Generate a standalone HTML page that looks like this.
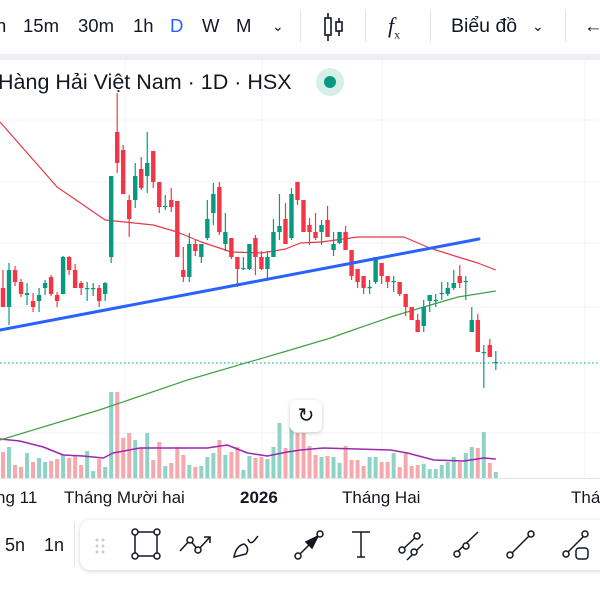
<!DOCTYPE html>
<html><head><meta charset="utf-8">
<style>
html,body{margin:0;padding:0;width:600px;height:600px;overflow:hidden;background:#fff;font-family:"Liberation Sans","DejaVu Sans",sans-serif;color:#131722}
.tb{position:absolute;left:0;top:0;width:600px;height:54px;background:#fff}
.tb span{position:absolute;top:14px;font-size:18.5px;line-height:24px}
.sep{position:absolute;top:10px;width:1px;height:32px;background:#e0e3eb}
.gray{position:absolute;left:0;top:54px;width:600px;height:6px;background:#eceef2}
.legend{position:absolute;left:-2px;top:69px;font-size:21.5px;line-height:26px;color:#131722;white-space:nowrap}
.dot{position:absolute;left:316px;top:68px;width:28px;height:28px;border-radius:50%;background:#d6efe9}
.dot i{position:absolute;left:8px;top:8px;width:12px;height:12px;border-radius:50%;background:#089981}
.xl{position:absolute;top:488px;font-size:17px;line-height:20px;white-space:nowrap}
.bt{position:absolute;left:0;top:512px;width:600px;height:88px;background:#fff}
.panel{position:absolute;left:80px;top:520px;width:540px;height:50px;border-radius:10px;background:#fff;box-shadow:0 1px 5px rgba(0,0,0,0.18)}
.reset{position:absolute;left:290px;top:400px;width:32px;height:32px;border-radius:6px;background:#fff;box-shadow:0 1px 4px rgba(0,0,0,0.2);font-size:20px;line-height:32px;text-align:center}
</style></head><body>
<svg id="chart" width="600" height="600" style="position:absolute;left:0;top:0"></svg>

<div class="tb">
 <span style="left:-4px">n</span>
 <span style="left:23px">15m</span>
 <span style="left:78px">30m</span>
 <span style="left:133px">1h</span>
 <span style="left:170px;color:#2962ff">D</span>
 <span style="left:202px">W</span>
 <span style="left:236px">M</span>
 <span style="left:272px;font-size:14px">&#8964;</span>
 <div class="sep" style="left:300px"></div>
 <svg style="position:absolute;left:322px;top:12px" width="24" height="30"><g stroke="#131722" stroke-width="1.6" fill="none"><line x1="6" y1="1" x2="6" y2="29"/><rect x="3" y="6" width="6" height="17" fill="#fff"/><line x1="17" y1="6" x2="17" y2="24"/><rect x="14" y="10" width="6" height="9" fill="#fff"/></g></svg>
 <div class="sep" style="left:365px"></div>
 <span style="left:388px;font-style:italic;font-family:'Liberation Serif',serif;font-size:22px">f<sub style="font-size:12px;font-style:normal">x</sub></span>
 <div class="sep" style="left:430px"></div>
 <span style="left:451px;font-size:19.5px">Biểu đồ</span>
 <span style="left:532px;font-size:14px">&#8964;</span>
 <div class="sep" style="left:565px"></div>
 <span style="left:584px">←</span>
</div>
<div class="gray"></div>
<div class="legend">Hàng Hải Việt Nam · 1D · HSX</div>
<div class="dot"><i></i></div>

<div class="xl" style="left:-4px">ng 11</div>
<div class="xl" style="left:64px">Tháng Mười hai</div>
<div class="xl" style="left:240px;font-weight:bold">2026</div>
<div class="xl" style="left:342px">Tháng Hai</div>
<div class="xl" style="left:571px">Thá</div>
<div class="reset">↻</div>

<div class="bt">
 <span style="position:absolute;left:5px;top:23px;font-size:18px">5n</span>
 <span style="position:absolute;left:44px;top:23px;font-size:18px">1n</span>
 <div style="position:absolute;left:74px;top:10px;width:1px;height:44px;background:#e0e3eb"></div>
</div>
<div class="panel">
<svg width="540" height="50" style="position:absolute;left:0;top:0">
 <g fill="#c8ccd4"><circle cx="17" cy="20" r="1.5"/><circle cx="23" cy="20" r="1.5"/><circle cx="17" cy="26" r="1.5"/><circle cx="23" cy="26" r="1.5"/><circle cx="17" cy="32" r="1.5"/><circle cx="23" cy="32" r="1.5"/></g>
 <g stroke="#131722" stroke-width="1.5" fill="#fff">
  <g><rect x="55" y="12" width="22" height="24" fill="none"/><circle cx="55" cy="12" r="3"/><circle cx="77" cy="12" r="3"/><circle cx="55" cy="36" r="3"/><circle cx="77" cy="36" r="3"/></g>
  <g><polyline points="100,31 110,20 118,30 130,17" fill="none"/><polyline points="124,17 130,17 130,23" fill="none"/><circle cx="110" cy="20" r="3"/><circle cx="118" cy="30" r="3"/></g>
  <g><path d="M154,37 Q156,26 164,24 Q170,28 166,34 Z" fill="none"/><path d="M168,19 q2,6 6,2 l4,-5" fill="none"/></g>
  <g><line x1="218" y1="36" x2="234" y2="20"/><polygon points="238,16 226,22 232,28" fill="#131722"/><circle cx="218" cy="36" r="3"/><circle cx="240" cy="14" r="3"/></g>
  <g><line x1="272" y1="12" x2="290" y2="12"/><line x1="281" y1="12" x2="281" y2="37"/><line x1="277" y1="37" x2="285" y2="37"/></g>
  <g><line x1="320" y1="32" x2="338" y2="15"/><line x1="327" y1="40" x2="343" y2="24"/><circle cx="322" cy="30" r="3"/><circle cx="337" cy="16" r="3"/><circle cx="334" cy="32" r="3"/></g>
  <g><line x1="375" y1="34" x2="398" y2="12"/><circle cx="377" cy="34" r="3"/><circle cx="386" cy="26" r="3"/></g>
  <g><line x1="429" y1="36" x2="450" y2="15"/><circle cx="430" cy="35" r="3"/><circle cx="451" cy="14" r="3"/></g>
  <g><line x1="485" y1="35" x2="505" y2="15"/><circle cx="486" cy="34" r="3"/><circle cx="505" cy="14" r="3"/><rect x="496" y="28" width="12" height="11" rx="3" fill="none"/></g>
 </g>
</svg></div>

<script>
// candle data (price units)
const opens =[21.2,19.3,23.0,21.8,20.5,19.9,19.9,21.2,22.3,20.5,20.6,24.3,23.0,21.7,21.2,21.2,21.2,20.6,24.3,36.8,35.0,30.0,30.0,33.1,32.4,34.9,31.8,29.3,30.0,29.9,23.0,22.3,25.6,24.3,26.2,28.7,31.3,25.6,26.2,24.3,23.1,23.1,26.2,24.3,23.1,24.3,26.8,28.1,26.2,31.8,30.0,27.5,26.8,26.8,28.0,25.0,25.7,26.8,25.0,23.1,22.4,21.2,21.8,23.7,22.4,21.8,21.8,20.6,19.3,18.0,17.4,19.9,19.9,20.6,20.6,21.2,22.4,21.8,16.8,18.0,14.7,15.5,13.7];
const highs =[23.0,23.7,23.4,22.1,21.7,20.7,21.2,22.0,22.5,20.8,24.4,24.4,23.6,21.9,21.8,21.7,21.5,21.8,32.4,40.7,35.5,30.5,33.7,34.3,36.8,34.9,31.8,30.5,31.2,29.9,25.3,26.7,26.0,25.6,30.0,31.7,31.8,28.7,26.2,24.3,24.3,25.6,26.5,24.9,24.9,28.1,30.6,29.7,31.2,31.8,30.0,28.2,28.7,28.0,29.4,26.8,26.8,27.4,25.0,23.1,22.4,22.0,24.3,23.7,22.4,22.4,21.8,20.6,19.3,18.6,20.0,20.5,20.6,21.8,21.8,23.0,23.5,22.4,19.3,18.6,15.5,16.1,14.9];
const lows  =[19.3,17.5,21.4,20.3,19.5,18.8,18.8,20.5,20.4,19.3,20.6,22.5,21.2,20.5,19.9,20.4,19.3,19.9,23.7,32.7,30.6,26.3,29.2,31.0,30.7,31.2,28.7,29.0,28.8,24.3,21.8,21.8,24.4,23.7,26.0,27.5,26.5,24.9,24.1,21.3,23.0,23.0,22.5,23.0,21.9,24.3,26.0,25.6,26.0,29.5,26.8,25.5,26.0,25.5,26.3,24.4,25.6,25.0,22.0,21.2,20.6,20.6,21.6,21.6,21.2,20.8,20.4,18.4,18.0,16.8,16.8,18.8,19.3,20.0,20.4,21.0,21.2,20.0,16.8,14.8,11.2,14.3,13.0];
const closes=[19.3,23.0,21.8,20.6,20.7,19.3,20.5,21.7,20.6,19.9,24.3,23.0,21.2,21.2,21.2,21.2,19.9,21.7,32.4,33.7,30.6,28.1,32.4,31.2,33.7,31.8,29.3,29.4,29.3,24.3,22.3,25.6,24.9,25.6,28.1,30.6,26.8,26.8,24.3,23.1,23.2,25.6,24.3,23.1,24.3,26.8,27.4,25.6,30.6,30.0,26.8,26.8,26.2,27.5,26.3,25.6,26.8,25.0,22.4,21.8,21.2,21.3,24.3,22.4,21.8,21.9,20.6,19.3,18.0,16.8,19.3,20.5,20.0,20.7,21.2,21.7,21.7,21.9,18.0,14.8,14.8,14.3,13.8];
const volumes=[26,31,13,11,25,16,20,16,17,19,23,20,23,13,27,7,19,11,86,86,40,45,38,30,45,18,36,12,15,31,23,13,11,12,21,25,38,23,26,31,8,22,20,21,19,31,55,30,51,45,45,32,23,21,22,21,15,32,18,18,12,21,21,16,16,25,11,25,12,13,14,9,9,13,16,21,16,25,31,30,46,15,6];
// moving averages sampled at candle indices
const maRedIdx=[-0.5,9,17,25,29,33,38,43,47,49.5,53,59,66.7,71,75.7,79,82];
const maRedVal=[37.8,31.3,28.0,27.5,26.8,25.8,24.8,24.7,25.1,25.7,25.8,26.3,26.3,25.2,24.3,23.7,23.0];
const maGreenIdx=[-0.5,16,30.7,47.8,54.5,57.3,64.5,70,75.7,82];
const maGreenVal=[6.0,9.0,12.0,15.0,16.2,16.8,18.3,19.3,20.3,20.9];
const volMaIdx=[-0.5,2.8,6.7,10,13.3,16.7,18.3,22.8,27.3,34,37.3,40.7,44,47.3,49.5,53.3,64.5,67.3,71.7,76.7,80,82];
const volMaVal=[39,37,31,23,22,20,25,30,30,30,33,25,22,26,28,30,28,25,18,17,20,19];
const trendIdx=[-0.5,79.2];
const trendVal=[17.0,26.1];
const lastPrice=13.7;

const xS=i=>3+i*6.01;
const yP=p=>500-10*p;
const yV=v=>478-v;
const NS="http://www.w3.org/2000/svg";
const svg=document.getElementById('chart');
function mk(t,a){const e=document.createElementNS(NS,t);for(const k in a)e.setAttribute(k,a[k]);svg.appendChild(e);return e;}

// grid
[120,182,243,307,433].forEach(y=>{const g=mk('line',{x1:0,x2:600,y1:y,y2:y,stroke:'#f0f3fa','stroke-width':1});

});
[125,262,382,585].forEach(x=>{const g=mk('line',{x1:x,x2:x,y1:60,y2:478,stroke:'#f0f3fa','stroke-width':1});

});
const ax=mk('line',{x1:0,x2:600,y1:478.5,y2:478.5,stroke:'#e0e3eb','stroke-width':1});



// volumes
volumes.forEach((v,i)=>{const up=closes[i]>=opens[i];
const r=mk('rect',{x:xS(i)-2,y:yV(v),width:4,height:v,fill:up?'#8fd3c6':'#f7a8ad'});

});

function line(idx,val,yf,col,w,name){const pts=idx.map((d,k)=>xS(d).toFixed(1)+','+yf(val[k]).toFixed(1)).join(' ');
const p=mk('polyline',{points:pts,fill:'none',stroke:col,'stroke-width':w,'stroke-linejoin':'round'});

}
line(volMaIdx,volMaVal,yV,'#9c27b0',1.5,'volume-ma-line');
line(maGreenIdx,maGreenVal,yP,'#43a047',1.2,'ma-green-line');
line(maRedIdx,maRedVal,yP,'#e53946',1.2,'ma-red-line');

// candles
opens.forEach((o,i)=>{const c=closes[i];const up=c>=o;const col=up?'#089981':'#f23645';const x=xS(i);
const w=mk('line',{x1:x,x2:x,y1:yP(highs[i]),y2:yP(lows[i]),stroke:col,'stroke-width':1.2});


const top=yP(Math.max(o,c)),h=Math.max(1.2,yP(Math.min(o,c))-top);
const b=mk('rect',{x:x-2.2,y:top,width:4.4,height:h,fill:col});

});

// trend line (drawing)
const tl=mk('line',{x1:xS(trendIdx[0]),y1:yP(trendVal[0]),x2:xS(trendIdx[1]),y2:yP(trendVal[1]),stroke:'#2962ff','stroke-width':3,'stroke-linecap':'round'});


// last price line
const lp=mk('line',{x1:0,x2:600,y1:yP(lastPrice),y2:yP(lastPrice),stroke:'#089981','stroke-width':1,'stroke-dasharray':'1.5,2.5'});


</script>
</body></html>
